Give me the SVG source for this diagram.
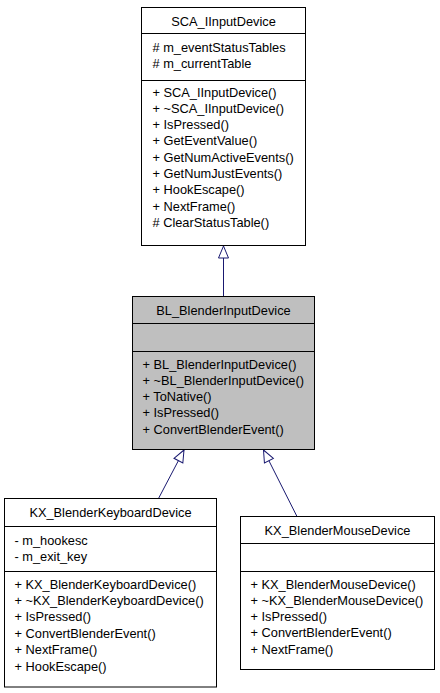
<svg xmlns="http://www.w3.org/2000/svg" width="440" height="693" viewBox="0 0 440 693">
<style>
.box{fill:#ffffff;stroke:#000000;stroke-width:1}
.cur{fill:#bfbfbf;stroke:#000000;stroke-width:1}
.sep{stroke:#000000;stroke-width:1}
text{font-family:"Liberation Sans",Arial,sans-serif;font-size:12.8px;fill:#000000}
.t{text-anchor:middle}
.edge{fill:none;stroke:#191970;stroke-width:1}
</style>
<defs>
<marker id="inh" markerUnits="userSpaceOnUse" markerWidth="16" markerHeight="14" viewBox="-14 -7 16 14" refX="0" refY="0" orient="auto">
<path d="M0,0 L-12,-5 L-12,5 Z" fill="#ffffff" stroke="#191970" stroke-width="1"/>
</marker>
</defs>
<rect width="440" height="693" fill="#ffffff"/>
<g id="connectors">
<path class="edge" d="M223.5,296.5 L223.5,246" marker-end="url(#inh)"/>
<path class="edge" d="M158.5,498.5 L184,450" marker-end="url(#inh)"/>
<path class="edge" d="M297,516.5 L263.5,450" marker-end="url(#inh)"/>
</g>
<g id="SCA_IInputDevice">
<rect class="box" x="141.5" y="7.5" width="164" height="238"/>
<line class="sep" x1="141.5" y1="33.5" x2="305.5" y2="33.5"/>
<line class="sep" x1="141.5" y1="80.5" x2="305.5" y2="80.5"/>
<text class="t" x="223.5" y="25.5">SCA_IInputDevice</text>
<text x="152.5" y="51.5"># m_eventStatusTables</text>
<text x="152.5" y="67.5"># m_currentTable</text>
<text x="152.5" y="96.5">+ SCA_IInputDevice()</text>
<text x="152.5" y="112.8">+ ~SCA_IInputDevice()</text>
<text x="152.5" y="129.1">+ IsPressed()</text>
<text x="152.5" y="145.4">+ GetEventValue()</text>
<text x="152.5" y="161.7">+ GetNumActiveEvents()</text>
<text x="152.5" y="178">+ GetNumJustEvents()</text>
<text x="152.5" y="194.3">+ HookEscape()</text>
<text x="152.5" y="210.6">+ NextFrame()</text>
<text x="152.5" y="226.9"># ClearStatusTable()</text>
</g>
<g id="BL_BlenderInputDevice">
<rect class="cur" x="132.5" y="296.5" width="182" height="153"/>
<line class="sep" x1="132.5" y1="323.5" x2="314.5" y2="323.5"/>
<line class="sep" x1="132.5" y1="351.5" x2="314.5" y2="351.5"/>
<text class="t" x="223.5" y="314.5">BL_BlenderInputDevice</text>
<text x="142.5" y="368.5">+ BL_BlenderInputDevice()</text>
<text x="142.5" y="384.8">+ ~BL_BlenderInputDevice()</text>
<text x="142.5" y="401.1">+ ToNative()</text>
<text x="142.5" y="417.4">+ IsPressed()</text>
<text x="142.5" y="433.7">+ ConvertBlenderEvent()</text>
</g>
<g id="KX_BlenderKeyboardDevice">
<rect class="box" x="4.5" y="498.5" width="212" height="188.5"/>
<line class="sep" x1="4.5" y1="526.5" x2="216.5" y2="526.5"/>
<line class="sep" x1="4.5" y1="571.5" x2="216.5" y2="571.5"/>
<text class="t" x="110.5" y="517">KX_BlenderKeyboardDevice</text>
<text x="14.5" y="544.5">- m_hookesc</text>
<text x="14.5" y="561">- m_exit_key</text>
<text x="14.5" y="588.5">+ KX_BlenderKeyboardDevice()</text>
<text x="14.5" y="604.9">+ ~KX_BlenderKeyboardDevice()</text>
<text x="14.5" y="621.3">+ IsPressed()</text>
<text x="14.5" y="637.7">+ ConvertBlenderEvent()</text>
<text x="14.5" y="654.1">+ NextFrame()</text>
<text x="14.5" y="670.5">+ HookEscape()</text>
</g>
<g id="KX_BlenderMouseDevice">
<rect class="box" x="240.5" y="516.5" width="194" height="153"/>
<line class="sep" x1="240.5" y1="543.5" x2="434.5" y2="543.5"/>
<line class="sep" x1="240.5" y1="571.5" x2="434.5" y2="571.5"/>
<text class="t" x="337.5" y="534.5">KX_BlenderMouseDevice</text>
<text x="250.5" y="588.5">+ KX_BlenderMouseDevice()</text>
<text x="250.5" y="604.8">+ ~KX_BlenderMouseDevice()</text>
<text x="250.5" y="621.1">+ IsPressed()</text>
<text x="250.5" y="637.4">+ ConvertBlenderEvent()</text>
<text x="250.5" y="653.7">+ NextFrame()</text>
</g>
</svg>
